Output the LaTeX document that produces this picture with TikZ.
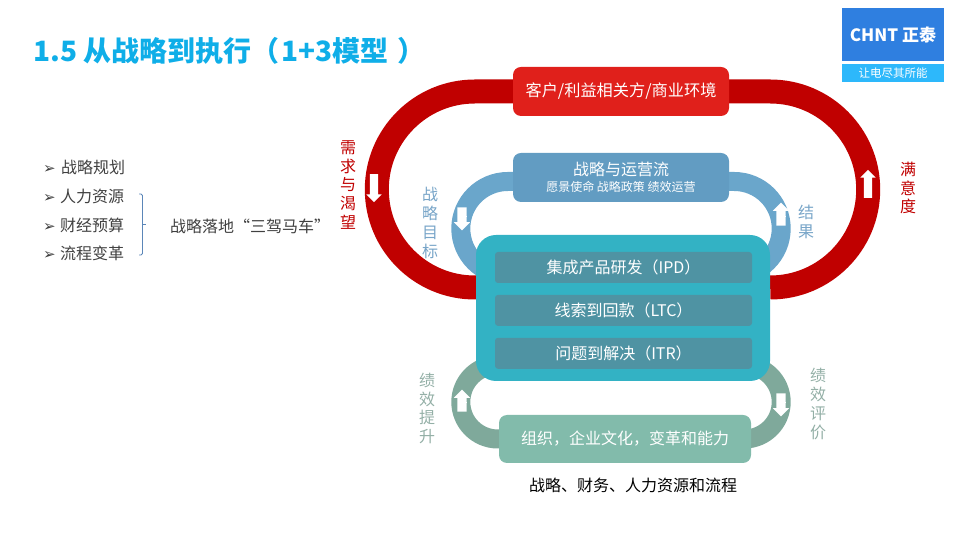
\documentclass[tikz,border=0pt]{standalone}
\usepackage{fontspec}
\setmainfont{Noto Sans CJK SC}
\newfontfamily\symfont{DejaVu Sans}
\usetikzlibrary{shapes.arrows, positioning, backgrounds}

\definecolor{titleblue}{HTML}{0FAEE8}
\definecolor{logoblue}{HTML}{2F7FE0}
\definecolor{logosky}{HTML}{2DB8FB}
\definecolor{ringred}{HTML}{C00000}
\definecolor{boxred}{HTML}{E0201B}
\definecolor{ringblue}{HTML}{6AA6CB}
\definecolor{boxblue}{HTML}{629CC2}
\definecolor{ringgreen}{HTML}{7FA99B}
\definecolor{boxgreen}{HTML}{82BBAB}
\definecolor{coreteal}{HTML}{33B2C4}
\definecolor{innerteal}{HTML}{4F93A3}
\definecolor{lblblue}{HTML}{78A5C8}
\definecolor{lblgreen}{HTML}{93AFA6}
\definecolor{bodygray}{HTML}{404040}
\definecolor{bracegray}{HTML}{5B86B8}

\begin{document}
\begin{tikzpicture}[
  x=1pt, y=1pt,
  block/.style    = {rectangle, rounded corners=8pt,
                     minimum height=49pt, minimum width=216pt,
                     align=center, text=white, inner sep=0pt,
                     font=\fontsize{16}{18}\selectfont},
  lane/.style     = {rectangle, rounded corners=3pt, fill=innerteal,
                     minimum height=31pt, minimum width=257pt,
                     text=white, inner sep=0pt,
                     font=\fontsize{16}{18}\selectfont},
  band/.style     = {line width=#1, line cap=butt},
  flowmark/.style = {single arrow, fill=white, text=white, inner sep=0pt,
                     single arrow head indent=0pt,
                     single arrow head extend=3.5pt,
                     minimum height=#1},
  vlbl/.style     = {align=center, inner sep=0pt,
                     font=\fontsize{16}{18.9}\selectfont},
  item/.style     = {anchor=west, inner sep=0pt, text=bodygray,
                     font=\fontsize{16}{18}\selectfont},
]
\useasboundingbox (0,0) rectangle (960,540);

%── Title and logo ────────────────────────────────────────────────────
\node[anchor=west, inner sep=0pt, text=titleblue,
      font=\fontsize{28}{30}\selectfont\bfseries] (title) at (33,489)
  {1.5 从战略到执行（\hspace{2pt}1+3模型\hspace{9pt}）};

\node[fill=logoblue, minimum width=102pt, minimum height=53pt, inner sep=0pt,
      text=white, font=\fontsize{17}{19}\selectfont\bfseries] (logo) at (893,505.5)
  {CHNT 正泰};
\node[fill=logosky, minimum width=102pt, minimum height=18pt, inner sep=0pt,
      text=white, font=\fontsize{11.5}{12}\selectfont,
      below=3pt of logo] (slogan)
  {让电尽其所能};

%── Boxes ─────────────────────────────────────────────────────────────
\node[block, fill=boxred, font=\fontsize{16.2}{18}\selectfont] (customer) at (621,448.5)
  {客户/利益相关方/商业环境};

\node[block, fill=boxblue] (flow) at (621,362.5)
  {战略与运营流\\[-2pt]{\fontsize{12}{14}\selectfont 愿景使命 战略政策 绩效运营}};

\node[block, fill=boxgreen, minimum width=252pt, minimum height=48pt] (org) at (625,101)
  {组织，企业文化，变革和能力};

\node[rectangle, rounded corners=20pt, fill=coreteal,
      minimum width=294pt, minimum height=146pt, inner sep=0pt] (core) at (623,232) {};

\node[lane] (ipd) at (623.5,272.5) {集成产品研发（IPD）};
\node[lane, below=11.5pt of ipd] (ltc) {线索到回款（LTC）};
\node[lane, below=11.5pt of ltc] (itr) {问题到解决（ITR）};

%── Bands behind the boxes ────────────────────────────────────────────
\begin{pgfonlayer}{background}
\draw[band=24pt, ringred] (customer.west) -- ++(-38,0)
  arc[start angle=90, end angle=270, radius=98] -- (core.west |- 0,252.5);
\draw[band=24pt, ringred] (customer.east) -- ++(41,0)
  arc[start angle=90, end angle=-90, radius=98] -- (core.east |- 0,252.5);

\draw[band=19pt, ringblue] (flow.west |- 0,358.5) -- ++(-5,0)
  arc[start angle=90, end angle=270, radius=47];
\draw[band=19pt, ringblue] (flow.east |- 0,358.5) -- ++(5,0)
  arc[start angle=90, end angle=-90, radius=47];

\draw[band=19pt, ringgreen] (org.west) -- ++(-1,0)
  arc[start angle=270, end angle=90, radius=37];
\draw[band=19pt, ringgreen] (org.east) -- ++(-7,0)
  arc[start angle=-90, end angle=90, radius=37];
\end{pgfonlayer}

%── Direction marks on the bands ──────────────────────────────────────
\node[flowmark=28pt, rotate=-90] (down1) at (374,354) {\rule{1pt}{8pt}};
\node[flowmark=28pt, rotate=90]  (up1)   at (868,354) {\rule{1pt}{8pt}};
\node[flowmark=23pt, rotate=-90] (down2) at (462,323.5) {\rule{1pt}{9pt}};
\node[flowmark=23pt, rotate=90]  (up2)   at (781,323.5) {\rule{1pt}{9pt}};
\node[flowmark=22pt, rotate=90]  (up3)   at (462,137) {\rule{1pt}{9pt}};
\node[flowmark=23pt, rotate=-90] (down3) at (781,137.5) {\rule{1pt}{9pt}};

%── Left list ─────────────────────────────────────────────────────────
\node[item] (plan) at (43,373) {\makebox[18pt][l]{\symfont\fontsize{15}{12}\selectfont ➢}战略规划};
\node[item] (hr)   at (43,344) {\makebox[17pt][l]{\symfont\fontsize{15}{12}\selectfont ➢}人力资源};
\node[item] (fin)  at (43,315) {\makebox[17pt][l]{\symfont\fontsize{15}{12}\selectfont ➢}财经预算};
\node[item] (proc) at (43,287) {\makebox[17pt][l]{\symfont\fontsize{15}{12}\selectfont ➢}流程变革};

\node[item] (landing) at (170,314) {战略落地“三驾马车”};

\coordinate (bracetop) at (139,346);
\coordinate (bracebot) at (139,285);
\coordinate (bracetip) at (145.5,315.5);
\draw[bracegray, line width=0.8pt, rounded corners=1.5pt]
  (bracetop) -- ++(3.5,0) -- ++(0,-61) -- (bracebot);
\draw[bracegray, line width=0.8pt] (bracetip) -- ++(-3,0);

%── Side labels ───────────────────────────────────────────────────────
\node[vlbl, text=ringred]  (need)   at (348,355) {需\\求\\与\\渴\\望};
\node[vlbl, text=ringred]  (satis)  at (908,352) {满\\意\\度};
\node[vlbl, text=lblblue]  (goal)   at (430,317) {战\\略\\目\\标};
\node[vlbl, text=lblblue]  (result) at (806,318.5) {结\\果};
\node[vlbl, text=lblgreen] (raise)  at (427,131.5) {绩\\效\\提\\升};
\node[vlbl, text=lblgreen] (review) at (818,136) {绩\\效\\评\\价};

\node[text=black, inner sep=0pt, font=\fontsize{16}{18}\selectfont] (caption) at (633,55)
  {战略、财务、人力资源和流程};

\end{tikzpicture}
\end{document}
